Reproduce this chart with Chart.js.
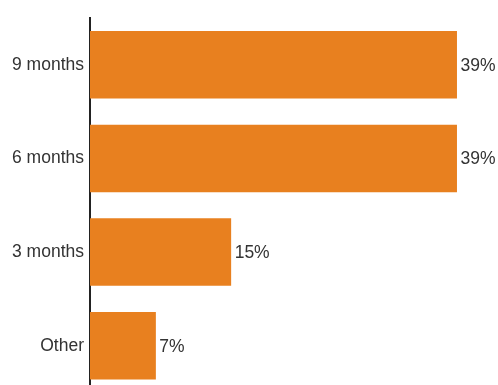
<!DOCTYPE html>
<html>
<head>
<meta charset="utf-8">
<script src="https://cdn.jsdelivr.net/npm/chart.js@4/dist/chart.umd.min.js"></script>
<style>
html,body{margin:0;padding:0;background:#fff;overflow:hidden;width:498px;height:385px;}
#wrap{width:498px;height:409px;}
</style>
</head>
<body>
<div id="wrap"><canvas id="c" width="498" height="409"></canvas></div>
<script>
const categories = ["9 months", "6 months", "3 months", "Other"];
const values = [39, 39, 15, 7];
const valueLabels = ["39%", "39%", "15%", "7%"];

const barColor = "#E8801F";
const textColor = "#333333";
const fontFamily = "'Liberation Sans', Arial, Helvetica, sans-serif";

const valueLabelPlugin = {
  id: "valueLabels",
  afterDatasetsDraw(chart) {
    const ctx = chart.ctx;
    const meta = chart.getDatasetMeta(0);
    ctx.save();
    ctx.font = "17.5px " + fontFamily;
    ctx.fillStyle = textColor;
    ctx.textAlign = "left";
    ctx.textBaseline = "middle";
    meta.data.forEach((bar, i) => {
      ctx.fillText(valueLabels[i], bar.x + 3.5, bar.y + 1);
    });
    ctx.restore();
  }
};

new Chart(document.getElementById("c"), {
  type: "bar",
  data: {
    labels: categories,
    datasets: [{
      data: values,
      backgroundColor: barColor,
      borderWidth: 0,
      barPercentage: 0.72,
      categoryPercentage: 1.0
    }]
  },
  options: {
    indexAxis: "y",
    responsive: false,
    animation: false,
    layout: { padding: { top: 18, right: 0, bottom: 0, left: 0 } },
    plugins: { legend: { display: false }, tooltip: { enabled: false } },
    scales: {
      x: {
        display: false,
        min: 0,
        max: 43.36
      },
      y: {
        grid: { display: false, drawTicks: false },
        border: { display: true, color: "#222222", width: 2 },
        ticks: {
          color: textColor,
          font: { size: 17.5, family: fontFamily },
          padding: 6
        },
        afterFit(scale) { scale.width = 90; }
      }
    }
  },
  plugins: [valueLabelPlugin]
});
</script>
</body>
</html>
